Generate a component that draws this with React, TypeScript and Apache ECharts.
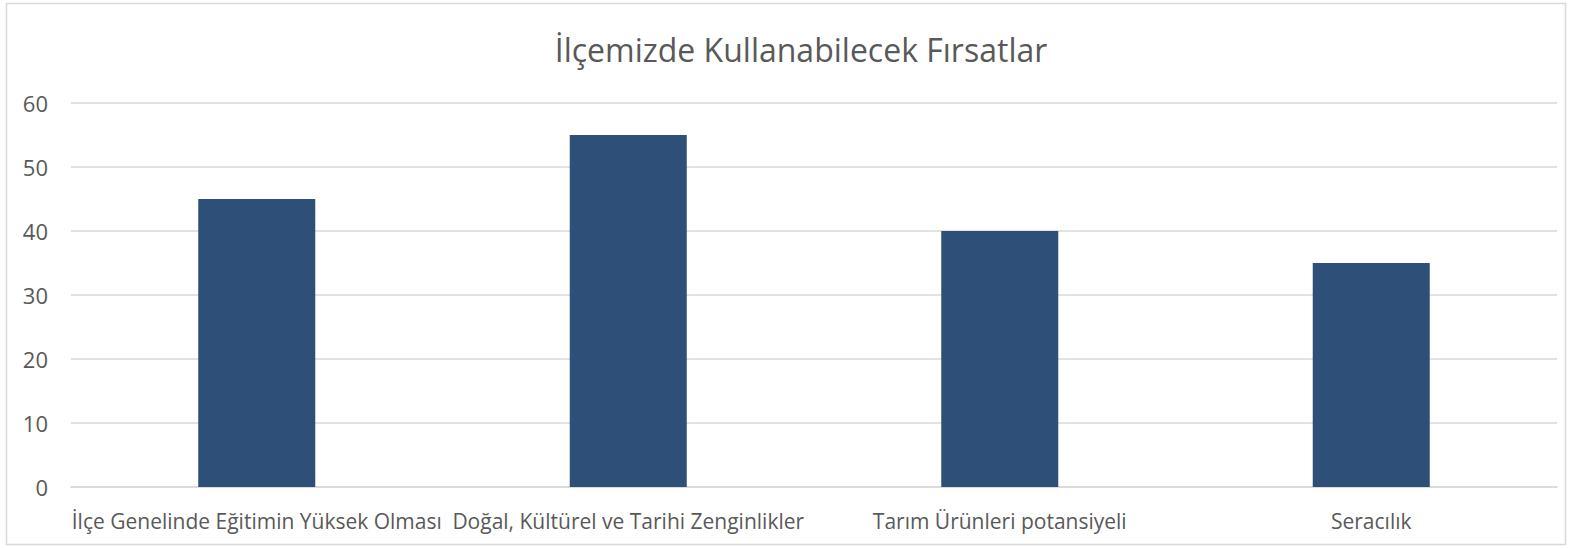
import React, { useEffect, useRef } from "react";
import * as echarts from "echarts";

const categories = [
  "İlçe Genelinde Eğitimin Yüksek Olması",
  "Doğal, Kültürel ve Tarihi Zenginlikler",
  "Tarım Ürünleri potansiyeli",
  "Seracılık",
];
const values = [45, 55, 40, 35];
const titleText = "İlçemizde Kullanabilecek Fırsatlar";

export default function App() {
  const ref = useRef<HTMLDivElement>(null);
  useEffect(() => {
    document.body.style.margin = "0";
    const chart = echarts.init(ref.current!, null, { renderer: "svg" });
    chart.setOption({
      animation: false,
      backgroundColor: "#ffffff",
      textStyle: { fontFamily: "Open Sans" },
      title: {
        text: titleText,
        left: 796,
        top: 28,
        textAlign: "center",
        textStyle: { fontFamily: "Open Sans", fontSize: 32, fontWeight: "normal", color: "#595959" },
      } as any,
      graphic: [
        {
          type: "rect",
          shape: { x: 6.5, y: 3.5, width: 1559, height: 541 },
          style: { fill: "none", stroke: "#d9d9d9", lineWidth: 1.5 },
          silent: true,
        },
      ],
      grid: { left: 71, right: 12, top: 103, bottom: 61, containLabel: false },
      xAxis: {
        type: "category",
        data: categories,
        axisTick: { show: false },
        axisLine: { show: true, lineStyle: { color: "#d9d9d9", width: 1.5 } },
        axisLabel: { color: "#595959", fontSize: 21, margin: 23, interval: 0, fontFamily: "Open Sans" },
      },
      yAxis: {
        type: "value",
        min: 0,
        max: 60,
        interval: 10,
        axisLine: { show: false },
        axisTick: { show: false },
        splitLine: { lineStyle: { color: "#d9d9d9", width: 1.5 } },
        axisLabel: { color: "#595959", fontSize: 22, margin: 23, fontFamily: "Open Sans" },
      },
      series: [
        {
          type: "bar",
          data: values,
          barWidth: "31.5%",
          itemStyle: { color: "#2E4F77" },
        },
      ],
    });
    return () => chart.dispose();
  }, []);
  return <div ref={ref} style={{ width: 1569, height: 548 }} />;
}
